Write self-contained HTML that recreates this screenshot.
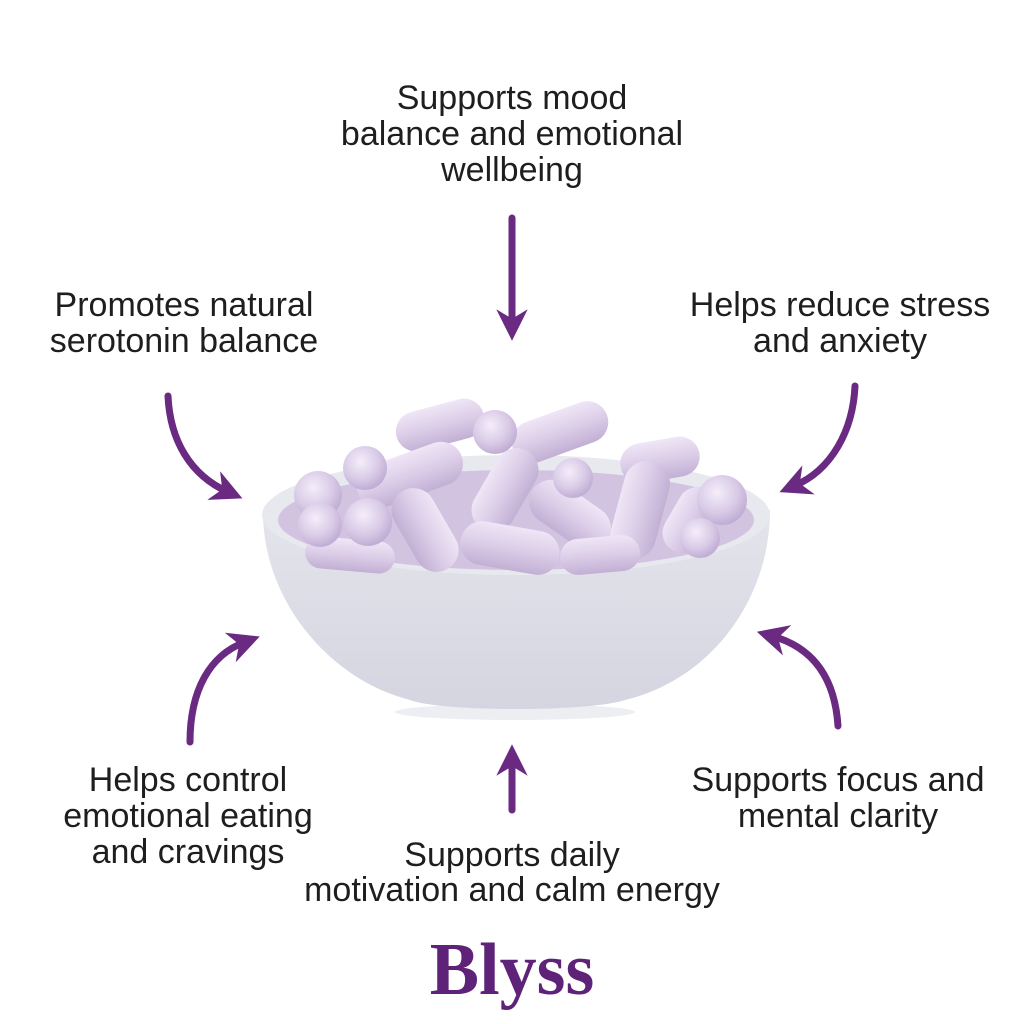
<!DOCTYPE html>
<html><head><meta charset="utf-8"><style>
html,body{margin:0;padding:0;background:#fff;}
svg{display:block}
text{font-family:"Liberation Sans","DejaVu Sans",sans-serif;font-size:34px;fill:#1e1e1e;text-anchor:middle}
</style></head><body>
<svg width="1024" height="1024" viewBox="0 0 1024 1024" xmlns="http://www.w3.org/2000/svg">
<defs>
<marker id="ah" viewBox="0 0 10 10" refX="5" refY="5" markerWidth="4.5" markerHeight="4.5" orient="auto-start-reverse" markerUnits="strokeWidth">
<path d="M0,0 L10,5 L0,10 L3,5 z" fill="#6a2a82"/></marker>
<linearGradient id="bowl" x1="0" y1="0" x2="0" y2="1">
<stop offset="0" stop-color="#e4e4ec"/><stop offset="1" stop-color="#d4d5e0"/></linearGradient>
<linearGradient id="pill" x1="0" y1="0" x2="0" y2="1">
<stop offset="0" stop-color="#efe6f6"/><stop offset="0.5" stop-color="#dccde8"/><stop offset="1" stop-color="#c2b0d4"/></linearGradient>
<radialGradient id="ball" cx="0.4" cy="0.35" r="0.7">
<stop offset="0" stop-color="#f4eefa"/><stop offset="0.6" stop-color="#d8c9e6"/><stop offset="1" stop-color="#bca8d0"/></radialGradient>
</defs>
<rect width="1024" height="1024" fill="#fff"/>

<text x="512" y="109">Supports mood</text>
<text x="512" y="145">balance and emotional</text>
<text x="512" y="181">wellbeing</text>
<text x="184" y="316">Promotes natural</text>
<text x="184" y="352">serotonin balance</text>
<text x="840" y="316">Helps reduce stress</text>
<text x="840" y="352">and anxiety</text>
<text x="188" y="791">Helps control</text>
<text x="188" y="827">emotional eating</text>
<text x="188" y="863">and cravings</text>
<text x="838" y="791">Supports focus and</text>
<text x="838" y="827">mental clarity</text>
<text x="512" y="866">Supports daily</text>
<text x="512" y="901">motivation and calm energy</text>

<g fill="none" stroke="#6a2a82" stroke-width="7" stroke-linecap="round" marker-end="url(#ah)">
<path d="M512,218 L512,325"/>
<path d="M168,396 C170,440 190,475 228,492"/>
<path d="M855,386 C853,430 832,470 794,486"/>
<path d="M190,742 C190,690 210,655 245,642"/>
<path d="M838,726 C835,680 815,648 772,636"/>
<path d="M512,810 L512,760"/>
</g>

<ellipse cx="515" cy="712" rx="120" ry="8" fill="#eceef2"/>
<path d="M263,510 C262,600 330,680 410,700 C440,712 590,712 625,700 C710,680 770,600 770,510 Z" fill="url(#bowl)"/>
<ellipse cx="516" cy="515" rx="254" ry="60" fill="#e8e8ef"/>
<ellipse cx="516" cy="520" rx="238" ry="50" fill="#d2c3e0"/>

<g>
<g transform="translate(440,425) rotate(-15)"><rect x="-45" y="-20" width="90" height="40" rx="20" fill="url(#pill)"/></g>
<g transform="translate(560,432) rotate(-20)"><rect x="-50" y="-21" width="100" height="42" rx="21" fill="url(#pill)"/></g>
<g transform="translate(660,460) rotate(-10)"><rect x="-40" y="-20" width="80" height="40" rx="20" fill="url(#pill)"/></g>
<g transform="translate(410,475) rotate(-20)"><rect x="-55" y="-22" width="110" height="44" rx="22" fill="url(#pill)"/></g>
<g transform="translate(505,490) rotate(-60)"><rect x="-45" y="-22" width="90" height="44" rx="22" fill="url(#pill)"/></g>
<g transform="translate(640,510) rotate(-75)"><rect x="-50" y="-23" width="100" height="46" rx="23" fill="url(#pill)"/></g>
<g transform="translate(570,515) rotate(35)"><rect x="-45" y="-22" width="90" height="44" rx="22" fill="url(#pill)"/></g>
<g transform="translate(425,530) rotate(60)"><rect x="-45" y="-22" width="90" height="44" rx="22" fill="url(#pill)"/></g>
<g transform="translate(510,548) rotate(10)"><rect x="-50" y="-22" width="100" height="44" rx="22" fill="url(#pill)"/></g>
<g transform="translate(690,520) rotate(-60)"><rect x="-35" y="-20" width="70" height="40" rx="20" fill="url(#pill)"/></g>
<g transform="translate(600,555) rotate(-5)"><rect x="-40" y="-18" width="80" height="36" rx="18" fill="url(#pill)"/></g>
<g transform="translate(350,555) rotate(5)"><rect x="-45" y="-16" width="90" height="32" rx="16" fill="url(#pill)"/></g>
<circle cx="318" cy="495" r="24" fill="url(#ball)"/>
<circle cx="365" cy="468" r="22" fill="url(#ball)"/>
<circle cx="320" cy="525" r="22" fill="url(#ball)"/>
<circle cx="368" cy="522" r="24" fill="url(#ball)"/>
<circle cx="722" cy="500" r="25" fill="url(#ball)"/>
<circle cx="573" cy="478" r="20" fill="url(#ball)"/>
<circle cx="495" cy="432" r="22" fill="url(#ball)"/>
<circle cx="700" cy="538" r="20" fill="url(#ball)"/>
</g>

<text x="512" y="994" style="font-family:'Liberation Serif',serif;font-size:74px;font-weight:bold;fill:#5e2278">Blyss</text>
</svg>
</body></html>
